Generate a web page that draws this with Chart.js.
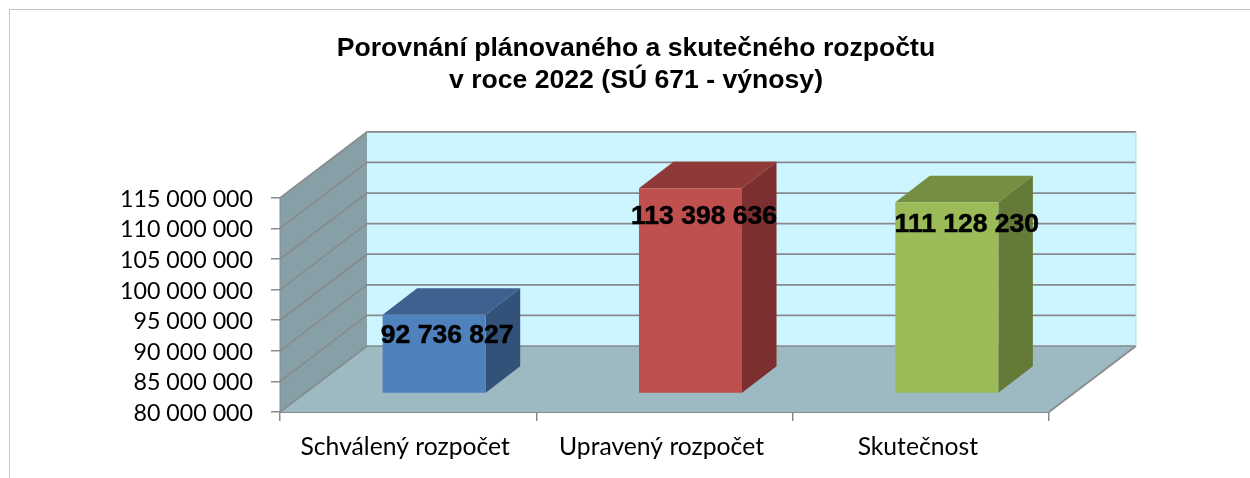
<!DOCTYPE html>
<html><head><meta charset="utf-8">
<style>
html,body{margin:0;padding:0;background:#fff;overflow:hidden}
#wrap{position:relative;width:1250px;height:478px}
#frame{position:absolute;left:9px;top:9px;width:1300px;height:600px;border:1px solid #c4c4c4;box-sizing:border-box}
canvas{position:absolute;left:0;top:0}
</style>
<script src="https://cdn.jsdelivr.net/npm/chart.js@4"></script>
</head><body>
<div id="wrap"><div id="frame"></div><canvas id="c" width="1250" height="478"></canvas></div>
<script>
const categories = ['Schválený rozpočet','Upravený rozpočet','Skutečnost'];
const values = [92736827,113398636,111128230];
const titleLines = ['Porovnání plánovaného a skutečného rozpočtu','v roce 2022 (SÚ 671 - výnosy)'];
const axisMin = 80000000, axisMax = 115000000, axisStep = 5000000;
const faceColors = ['#4F81BD','#C0504D','#9BBB59'];
const topColors = ['#3E6290','#8F3A39','#758F42'];
const sideColors = ['#32527A','#7C2F2E','#647A37'];

const fmt = v => String(v).replace(/\B(?=(\d{3})+(?!\d))/g,' ');
const DX = 87, DY = -66;          // depth of the plot box
const BAR_SHIFT = [26,-19.3];     // bar front face inside the box
const BAR_DX = 34.5, BAR_DY = -26.5; // depth of a bar
const LABEL_OFF = [[13,20.5],[13.5,28.5],[20,22.5]];
const GRID = '#878b8d';

function poly(ctx,pts,fill,stroke){
  ctx.beginPath();pts.forEach((p,i)=>i?ctx.lineTo(p[0],p[1]):ctx.moveTo(p[0],p[1]));ctx.closePath();
  if(fill){ctx.fillStyle=fill;ctx.fill();}
  if(stroke){ctx.strokeStyle=stroke;ctx.stroke();}
}
const box3d = {
  id:'box3d',
  beforeDatasetsDraw(chart){
    const {ctx,chartArea:a,scales:{y}}=chart;
    const b=a.bottom,t=a.top,l=a.left,r=a.right;
    ctx.save();
    poly(ctx,[[l+DX,t+DY],[r+DX,t+DY],[r+DX,b+DY],[l+DX,b+DY]],'#CCF5FF');
    poly(ctx,[[l,t],[l+DX,t+DY],[l+DX,b+DY],[l,b]],'#87A0A7');
    poly(ctx,[[l,b],[l+DX,b+DY],[r+DX,b+DY],[r,b]],'#9DB9C2');
    ctx.strokeStyle=GRID;ctx.lineWidth=1.7;
    y.ticks.forEach(k=>{
      const py=y.getPixelForValue(k.value);
      ctx.beginPath();ctx.moveTo(l,py);ctx.lineTo(l+DX,py+DY);ctx.lineTo(r+DX,py+DY);ctx.stroke();
    });
    ctx.beginPath();ctx.moveTo(r,b);ctx.lineTo(r+DX,b+DY);ctx.stroke();
    ctx.lineWidth=1;ctx.strokeStyle='#b5dde6';
    ctx.beginPath();ctx.moveTo(r+DX,t+DY);ctx.lineTo(r+DX,b+DY);ctx.stroke();
    ctx.strokeStyle=GRID;ctx.lineWidth=1;
    ctx.beginPath();ctx.moveTo(l,t);ctx.lineTo(l,b);ctx.stroke();
    ctx.restore();
    // bar sides and tops, then shift the faces into the box
    const els=chart.getDatasetMeta(0).data;
    const by=y.getPixelForValue(axisMin);
    ctx.save();ctx.translate(BAR_SHIFT[0],BAR_SHIFT[1]);
    els.forEach((e,i)=>{
      const x0=e.x-e.width/2,x1=e.x+e.width/2,ty=e.y;
      poly(ctx,[[x0,ty],[x0+BAR_DX,ty+BAR_DY],[x1+BAR_DX,ty+BAR_DY],[x1,ty]],topColors[i]);
      poly(ctx,[[x1,ty],[x1+BAR_DX,ty+BAR_DY],[x1+BAR_DX,by+BAR_DY],[x1,by]],sideColors[i]);
    });
  },
  afterDatasetsDraw(chart){
    const {ctx}=chart;
    ctx.restore();
    ctx.save();
    ctx.fillStyle='#000';ctx.strokeStyle='#000';ctx.lineWidth=0.5;
    ctx.font='bold 26.5px "Liberation Sans"';ctx.textAlign='center';ctx.textBaseline='middle';
    chart.getDatasetMeta(0).data.forEach((e,i)=>{
      const px=e.x+BAR_SHIFT[0]+LABEL_OFF[i][0],py=e.y+BAR_SHIFT[1]+LABEL_OFF[i][1];
      ctx.fillText(fmt(values[i]),px,py);ctx.strokeText(fmt(values[i]),px,py);
    });
    ctx.restore();
  }
};
new Chart(document.getElementById('c'),{
  type:'bar',
  data:{labels:categories,datasets:[{data:values,backgroundColor:faceColors,borderWidth:0,categoryPercentage:1,barPercentage:0.402}]},
  options:{
    responsive:false,animation:false,
    layout:{padding:{left:22,right:0,top:33,bottom:0}},
    plugins:{legend:{display:false},tooltip:{enabled:false},
      title:{display:true,text:titleLines,color:'#000',font:{family:'"Liberation Sans"',size:26.6,weight:'bold',lineHeight:1.2},padding:{top:0,bottom:101}}},
    scales:{
      x:{grid:{drawOnChartArea:false,drawTicks:true,tickLength:9,color:GRID,lineWidth:1.5},
         border:{color:GRID,width:2},
         ticks:{color:'#000',font:{family:'Lato',size:24.7},padding:11,labelOffset:-3,maxRotation:0},
         afterFit(s){s.height=66;}},
      y:{min:axisMin,max:axisMax,
         grid:{drawOnChartArea:false,drawTicks:true,tickLength:9,color:GRID,lineWidth:1.5},
         border:{display:false},
         ticks:{stepSize:axisStep,autoSkip:false,color:'#000',font:{family:'Lato',size:23.2},padding:18,labelOffset:1.5,callback:v=>fmt(v)},
         afterFit(s){s.width=258;}},
      y2:{position:'right',min:axisMin,max:axisMax,grid:{display:false},border:{display:false},ticks:{display:false},
         afterFit(s){s.width=201;}}
    }
  },
  plugins:[box3d]
});
</script></body></html>
